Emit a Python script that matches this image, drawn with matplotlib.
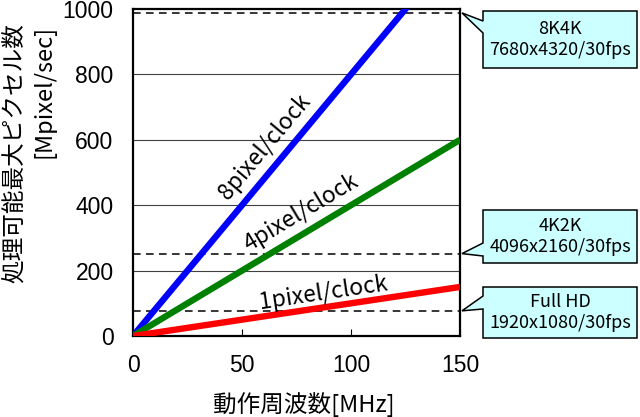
import numpy as np
import matplotlib
matplotlib.use("Agg")
import matplotlib.pyplot as plt
from matplotlib.patches import Polygon
from matplotlib.transforms import IdentityTransform

plt.rcParams['font.family'] = ['Noto Sans CJK JP', 'DejaVu Sans']
LATIN = ['Liberation Sans', 'DejaVu Sans']

# data
freq_mhz = np.array([0, 150])
pixels_per_clock = [8, 4, 1]
line_colors = ['#0000ff', '#008000', '#ff0000']
line_labels = ['8pixel/clock', '4pixel/clock', '1pixel/clock']
label_pos = [(60.6, 577), (77.1, 377), (87.2, 132)]
label_rot = [50, 31, 8.5]

formats = ['8K4K\n7680x4320/30fps', '4K2K\n4096x2160/30fps', 'Full HD\n1920x1080/30fps']
format_rates = [988, 252, 77]   # Mpixel/sec
yticks = [0, 200, 400, 600, 800, 1000]
xticks = [0, 50, 100, 150]

W, H = 640, 417
fig = plt.figure(figsize=(W / 100, H / 100), dpi=100)
ax = fig.add_axes([133 / W, 1 - 336 / H, 327 / W, 327 / H])

for n, c in zip(pixels_per_clock, line_colors):
    ax.plot(freq_mhz, freq_mhz * n, color=c, lw=4.6, solid_capstyle='butt', zorder=4)

for (x, y), txt, rot in zip(label_pos, line_labels, label_rot):
    ax.text(x, y, txt, rotation=rot, ha='center', va='center', fontsize=16.5,
            rotation_mode='anchor', zorder=5)

for v in yticks[1:-1]:
    ax.axhline(v, color='#404040', lw=0.8, zorder=1)
for r in format_rates:
    ax.axhline(r, color='black', lw=1.1, ls=(0, (5, 3.5)), zorder=2)

ax.set_xlim(0, 150)
ax.set_ylim(0, 1000)
ax.set_xticks(xticks, [str(v) for v in xticks], fontfamily=LATIN, fontsize=16.5)
ax.set_yticks(yticks, [str(v) for v in yticks], fontfamily=LATIN, fontsize=16.5)
ax.tick_params(axis='x', direction='in', length=5, width=0.8, pad=13)
ax.tick_params(axis='y', length=0, pad=14)
for s in ax.spines.values():
    s.set_linewidth(1.6)

fig.text(14 / W, 1 - 153 / H, '処理可能最大ピクセル数', rotation=90,
         ha='center', va='center', fontsize=17)
fig.text(44 / W, 1 - 91 / H, '[Mpixel/sec]', rotation=90,
         ha='center', va='center', fontsize=17)
fig.text(304 / W, 1 - 405 / H, '動作周波数[MHz]', ha='center', va='center', fontsize=17)

# callouts (pixel coords, y downward from top)
boxes = [(11, 68, 21, 33), (210, 263, 243, 256), (287, 338, 296, 309)]
bx0, bx1 = 483, 637
fig.canvas.draw()
for r, txt, (top, bot, b1, b2) in zip(format_rates, formats, boxes):
    tx, ty = ax.transData.transform((150, r))
    tx += 2
    pts = [(bx0, top), (bx1, top), (bx1, bot), (bx0, bot), (bx0, b2), None, (bx0, b1)]
    verts = []
    for p in pts:
        if p is None:
            verts.append((tx, ty))
        else:
            verts.append((p[0], H - p[1]))
    fig.add_artist(Polygon(verts, closed=True, fc='#ccffff', ec='black', lw=1.1,
                           transform=IdentityTransform()))
    fig.text((bx0 + bx1) / 2 / W, 1 - (top + bot) / 2 / H, txt, ha='center', va='center',
             fontsize=13, linespacing=1.25)

fig.savefig('out.png', dpi=100)
